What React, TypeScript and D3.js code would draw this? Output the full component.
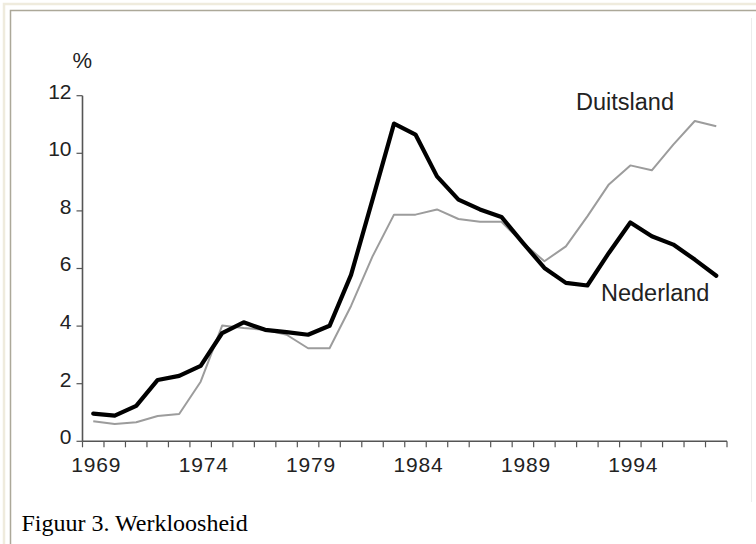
import { useEffect, useRef } from 'react'
import * as d3 from 'd3'

const W = 756
const H = 544
const FONT = '"Liberation Sans", Arial, Helvetica, sans-serif'

const years = [
  1969, 1970, 1971, 1972, 1973, 1974, 1975, 1976, 1977, 1978,
  1979, 1980, 1981, 1982, 1983, 1984, 1985, 1986, 1987, 1988,
  1989, 1990, 1991, 1992, 1993, 1994, 1995, 1996, 1997, 1998,
]
const nederland = [
  0.96, 0.89, 1.23, 2.13, 2.27, 2.62, 3.76, 4.13, 3.87, 3.79,
  3.7, 4.01, 5.78, 8.39, 11.03, 10.65, 9.2, 8.39, 8.05, 7.79,
  6.89, 6.02, 5.5, 5.41, 6.54, 7.6, 7.12, 6.83, 6.31, 5.75,
]
const duitsland = [
  0.7, 0.6, 0.66, 0.88, 0.95, 2.07, 4.02, 3.93, 3.87, 3.7,
  3.23, 3.23, 4.7, 6.42, 7.87, 7.87, 8.05, 7.72, 7.62, 7.62,
  6.89, 6.25, 6.77, 7.81, 8.92, 9.58, 9.41, 10.3, 11.12, 10.94,
]
const yTicks = [0, 2, 4, 6, 8, 10, 12]
const xLabels = [1969, 1974, 1979, 1984, 1989, 1994]

const PLOT = { left: 82.5, right: 727, top: 95.7, bottom: 441.3 }

export default function App() {
  const svgRef = useRef<SVGSVGElement>(null)

  useEffect(() => {
    const svg = d3.select(svgRef.current)
    svg.selectAll('*').remove()

    // ── page frame ──────────────────────────────────────────────
    svg.append('rect').attr('width', W).attr('height', H).attr('fill', '#fff')
    svg.append('path')
      .attr('d', `M4,${H} V4 H${W}`)
      .attr('fill', 'none').attr('stroke', '#efebdd').attr('stroke-width', 2.5)
    svg.append('path')
      .attr('d', `M10.5,${H} V10.5 H${W}`)
      .attr('fill', 'none').attr('stroke', '#aca899').attr('stroke-width', 1.5)
    svg.append('line')
      .attr('x1', 751.5).attr('x2', 751.5).attr('y1', 18).attr('y2', 502)
      .attr('stroke', '#ececec').attr('stroke-width', 1)

    // ── scales ──────────────────────────────────────────────────
    const x = d3.scaleBand<number>().domain(years).range([PLOT.left, PLOT.right]).padding(0)
    const y = d3.scaleLinear([0, 12], [PLOT.bottom, PLOT.top])
    const cx = (yr: number) => (x(yr) as number) + x.bandwidth() / 2

    const g = svg.append('g')

    // ── y axis ──────────────────────────────────────────────────
    g.append('line')
      .attr('x1', PLOT.left).attr('x2', PLOT.left)
      .attr('y1', y(12)).attr('y2', y(0))
      .attr('stroke', '#555').attr('stroke-width', 1.6)
    yTicks.forEach(t => {
      g.append('line')
        .attr('x1', PLOT.left - 6).attr('x2', PLOT.left)
        .attr('y1', y(t)).attr('y2', y(t))
        .attr('stroke', '#555').attr('stroke-width', 1.2)
      g.append('text')
        .attr('x', 71.5).attr('y', y(t) + 2.8)
        .attr('text-anchor', 'end')
        .attr('font-family', FONT).attr('font-size', 21).attr('fill', '#222')
        .text(t)
    })
    g.append('text')
      .attr('x', 72.5).attr('y', 68)
      .attr('font-family', FONT).attr('font-size', 22).attr('fill', '#222')
      .text('%')

    // ── x axis ──────────────────────────────────────────────────
    g.append('line')
      .attr('x1', PLOT.left).attr('x2', PLOT.right)
      .attr('y1', y(0)).attr('y2', y(0))
      .attr('stroke', '#555').attr('stroke-width', 1.6)
    const bounds = years.map(yr => x(yr) as number).concat([PLOT.right])
    bounds.forEach(bx => {
      g.append('line')
        .attr('x1', bx).attr('x2', bx)
        .attr('y1', y(0)).attr('y2', y(0) + 6)
        .attr('stroke', '#555').attr('stroke-width', 1.2)
    })
    xLabels.forEach(yr => {
      g.append('text')
        .attr('x', cx(yr) + 3).attr('y', 472)
        .attr('text-anchor', 'middle')
        .attr('font-family', FONT).attr('font-size', 21).attr('fill', '#222')
        .attr('letter-spacing', 0.8)
        .text(yr)
    })

    // ── lines ───────────────────────────────────────────────────
    const line = d3.line<number>()
      .x((_, i) => cx(years[i]))
      .y(d => y(d))

    g.append('path')
      .datum(duitsland)
      .attr('d', line)
      .attr('fill', 'none').attr('stroke', '#9c9c9c').attr('stroke-width', 2)
      .attr('stroke-linejoin', 'round')

    g.append('path')
      .datum(nederland)
      .attr('d', line)
      .attr('fill', 'none').attr('stroke', '#000').attr('stroke-width', 4.2)
      .attr('stroke-linejoin', 'round').attr('stroke-linecap', 'round')

    // ── series labels ───────────────────────────────────────────
    g.append('text')
      .attr('x', 576).attr('y', 110)
      .attr('font-family', FONT).attr('font-size', 23.5).attr('fill', '#222')
      .text('Duitsland')
    g.append('text')
      .attr('x', 601).attr('y', 301)
      .attr('font-family', FONT).attr('font-size', 23.5).attr('fill', '#222')
      .text('Nederland')

    // ── caption ─────────────────────────────────────────────────
    svg.append('text')
      .attr('x', 21.5).attr('y', 531)
      .attr('font-family', '"Liberation Serif", "Times New Roman", serif')
      .attr('font-size', 24).attr('fill', '#000')
      .text('Figuur 3. Werkloosheid')
  }, [])

  return (
    <svg
      ref={svgRef}
      width={W}
      height={H}
      style={{ position: 'absolute', left: 0, top: 0, display: 'block' }}
    />
  )
}
